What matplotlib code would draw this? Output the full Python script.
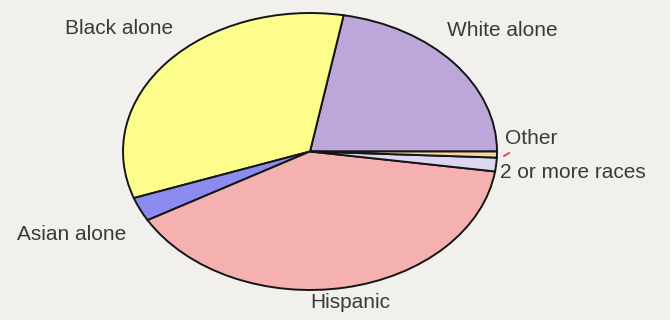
import matplotlib
matplotlib.use("Agg")
import matplotlib.pyplot as plt

# population shares by race / ethnicity (percent)
groups = ["White alone", "Black alone", "Asian alone", "Hispanic",
          "2 or more races", "Other"]
shares = [22.1, 33.3, 2.8, 39.4, 1.6, 0.7]
colors = ["#bca6da", "#fdfd8c", "#8c8cf0", "#f5b1b0", "#ddd6f2", "#f6d69c"]

bg = "#f2f0ed"
W, H = 670, 320

fig = plt.figure(figsize=(W / 100, H / 100), dpi=100, facecolor=bg)

# pie drawn into an axes box shaped like the ellipse so it stretches sideways
left, right, top, bottom = 123, 497, 13, 290
ax = fig.add_axes([left / W, 1 - bottom / H, (right - left) / W, (bottom - top) / H])
wedges, _ = ax.pie(shares, colors=colors, startangle=0, counterclock=True,
                   wedgeprops=dict(edgecolor="#151515", linewidth=1.4))
for w in wedges:
    w.set_clip_on(False)
ax.set_aspect("auto")
ax.set_xlim(-1, 1)
ax.set_ylim(-1, 1)
ax.axis("off")


def label(x, y, s, ha="center"):
    fig.text(x / W, 1 - y / H, s, ha=ha, va="center", fontsize=15,
             family="Liberation Sans", color="#3a3a3a")


label(119, 29, "Black alone")
label(502, 31, "White alone")
label(505, 139, "Other", ha="left")
label(500, 172, "2 or more races", ha="left")
label(72, 234, "Asian alone")
label(350, 303, "Hispanic")

# small red leader mark beside the "Other" slice
fig.add_artist(plt.Line2D([504 / W, 509 / W], [1 - 156 / H, 1 - 153 / H],
                          color="#e03030", linewidth=1.2))

fig.savefig("out.png", dpi=100, facecolor=bg)
